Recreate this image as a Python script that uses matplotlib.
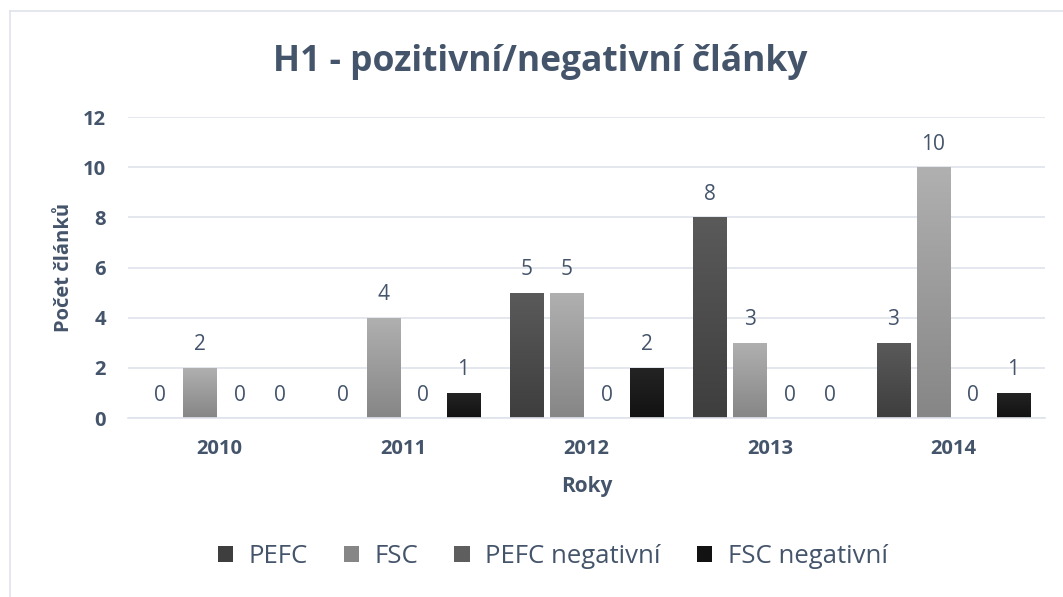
import numpy as np
import matplotlib.pyplot as plt
from matplotlib.colors import LinearSegmentedColormap

plt.rcParams['font.family'] = ['Open Sans', 'DejaVu Sans']

years = ['2010', '2011', '2012', '2013', '2014']
series = ['PEFC', 'FSC', 'PEFC negativní', 'FSC negativní']
pefc = [0, 0, 5, 8, 3]
fsc = [2, 4, 5, 3, 10]
pefc_neg = [0, 0, 0, 0, 0]
fsc_neg = [0, 1, 2, 0, 1]
values = [pefc, fsc, pefc_neg, fsc_neg]

# top / bottom colours of the vertical gradient for each series
grads = [('#5a5a5a', '#3e3e3e'), ('#b0b0b0', '#868686'),
         ('#959595', '#5e5e5e'), ('#242424', '#121212')]

txt = '#44546a'
grid = '#dfe3ea'

fig = plt.figure(figsize=(10.63, 5.97), dpi=100)
ax = fig.add_axes([0.1204, 0.2998, 0.8627, 0.5042])

x = np.arange(len(years))
w = 0.18
pitch = 0.218
offs = (np.arange(4) - 1.5) * pitch

ax.set_xlim(-0.5, 4.5)
ax.set_ylim(0, 12)

for i, vals in enumerate(values):
    cmap = LinearSegmentedColormap.from_list('g%d' % i, [grads[i][1], grads[i][0]])
    bars = ax.bar(x + offs[i], vals, w, color=grads[i][0], label=series[i], zorder=2)
    for b, v in zip(bars, vals):
        if v > 0:
            b.set_facecolor('none')
            x0 = b.get_x()
            im = ax.imshow(np.linspace(0, 1, 100).reshape(-1, 1), cmap=cmap,
                           extent=[x0, x0 + w, 0, v], origin='lower',
                           aspect='auto', zorder=2)
            im.set_clip_path(b)
        ax.annotate(str(v), (b.get_x() + w / 2, v), xytext=(0, 9),
                    textcoords='offset points', ha='center', va='bottom',
                    fontsize=15, color=txt)

ax.set_xlim(-0.5, 4.5)
ax.set_ylim(0, 12)
ax.set_yticks(range(0, 13, 2))
ax.set_xticks(x)
ax.set_xticklabels(years)
ax.yaxis.grid(True, color=grid, linewidth=1.2, zorder=0)
ax.set_axisbelow(True)
for s in ['top', 'right', 'left']:
    ax.spines[s].set_visible(False)
ax.spines['bottom'].set_color(grid)
ax.spines['bottom'].set_linewidth(1.2)
ax.tick_params(length=0, colors=txt, labelsize=14.5)
ax.tick_params(axis='y', pad=16)
ax.tick_params(axis='x', pad=15)
for lb in ax.get_xticklabels() + ax.get_yticklabels():
    lb.set_fontweight('bold')

ax.set_xlabel('Roky', fontsize=15, fontweight='bold', color=txt, labelpad=12)
ax.set_ylabel('Počet článků', fontsize=14.5, fontweight='bold', color=txt, labelpad=6)

fig.text(0.508, 0.896, 'H1 - pozitivní/negativní články', ha='center', va='center',
         fontsize=25.5, fontweight='bold', color=txt)

leg = fig.legend(loc='center', bbox_to_anchor=(0.52, 0.068), ncol=4, frameon=False,
                 fontsize=18.5, handlelength=0.6, handleheight=0.6, handletextpad=0.6,
                 columnspacing=1.4, labelcolor=txt)
for h, g in zip(leg.legend_handles, grads):
    h.set_facecolor(g[1])

# chart frame
fig.add_artist(plt.Line2D([10 / 1063, 10 / 1063], [0, 1 - 11 / 597],
                          transform=fig.transFigure, color=grid, lw=1.2))
fig.add_artist(plt.Line2D([10 / 1063, 1], [1 - 11 / 597, 1 - 11 / 597],
                          transform=fig.transFigure, color=grid, lw=1.2))

plt.savefig('out.png', dpi=100)
